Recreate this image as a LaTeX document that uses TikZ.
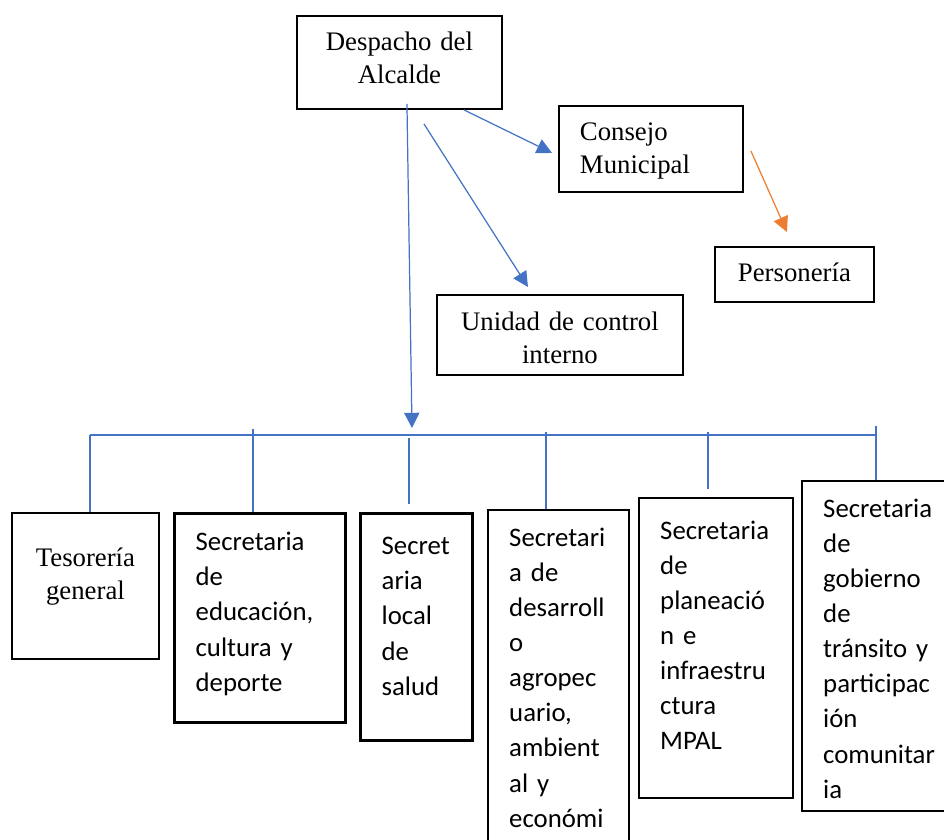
\documentclass[tikz,border=0pt]{standalone}
\usepackage{fontspec}
\setmainfont{Liberation Serif}
\newfontfamily\calibri{Carlito}
\definecolor{azulWord}{RGB}{68,114,196}
\definecolor{naranjaWord}{RGB}{237,125,49}
\newdimen\unpx
\unpx=0.4484pt
\usetikzlibrary{arrows.meta, calc}

\begin{document}
\begin{tikzpicture}[
  x=0.4484pt, y=-0.4484pt,
  caja/.style={rectangle, draw, line width=0.85pt, inner ysep=0pt, anchor=north west,
               font=\fontsize{12pt}{14.6pt}\selectfont},
  centrada/.style={caja, inner xsep=0pt, align=center},
  izquierda/.style={caja, inner xsep=21*\unpx, align=left},
  secre/.style={izquierda, line width=1.1pt,
                font=\calibri\fontsize{12pt}{15.75pt}\selectfont},
  gruesa/.style={secre, line width=1.5pt},
  flecha/.style={-{Triangle[length=6.8pt, width=6.8pt]}, line width=0.55pt},
  linea/.style={draw=azulWord, line width=0.55pt}
]
\clip (0,0) rectangle (944,840);

% Despacho y dependencias
\node[centrada, text width=205*\unpx, text height=35*\unpx, text depth=58*\unpx]
  (despacho) at (296,15) {Despacho del\\Alcalde};
\node[izquierda, text width=142*\unpx, text height=35*\unpx, text depth=51*\unpx]
  (consejo) at (558,105) {Consejo\\Municipal};
\node[centrada, text width=159*\unpx, text height=35*\unpx, text depth=20*\unpx]
  (personeria) at (714,246) {Personería};
\node[centrada, text width=246*\unpx, text height=36*\unpx, text depth=44*\unpx]
  (control) at (436,294) {Unidad de control\\interno};

% Secretarias (abajo)
\node[centrada, text width=147*\unpx, text height=54*\unpx, text depth=92*\unpx]
  (tesoreria) at (11,512) {Tesorería\\general};
\node[gruesa, text width=129*\unpx, text height=37*\unpx, text depth=172*\unpx]
  (educacion) at (173,512) {Secretaria\\de\\educación,\\cultura y\\deporte};
\node[gruesa, text width=70*\unpx, text height=41*\unpx, text depth=186*\unpx]
  (salud) at (359,512) {Secret\\aria\\local\\de\\salud};
\node[secre, text width=99*\unpx, text height=36*\unpx, text depth=320*\unpx]
  (desarrollo) at (487,509) {Secretari\\a de\\desarroll\\o\\agropec\\uario,\\ambient\\al y\\económi};
\node[secre, text width=112*\unpx, text height=41*\unpx, text depth=259*\unpx]
  (planeacion) at (638,497) {Secretaria\\de\\planeació\\n e\\infraestru\\ctura\\MPAL};
\node[secre, text width=160*\unpx, text height=36*\unpx, text depth=294*\unpx]
  (gobierno) at (801,480) {Secretaria\\de\\gobierno\\de\\tránsito y\\participac\\ión\\comunitar\\ia};

% Flechas desde el despacho
\coordinate (tronco) at (412,428);
\draw[flecha, azulWord] ($(despacho.south)+(7.5,-6)$) -- (tronco);
\draw[flecha, azulWord] ($(despacho.south)+(24.5,14)$) -- ($(control.north)+(-32,-7)$);
\draw[flecha, azulWord] ($(despacho.south)+(64.5,0)$) -- ($(consejo.west)+(-6,4)$);
\draw[flecha, naranjaWord] ($(consejo.east)+(7,2)$) -- ($(personeria.north)+(-7.5,-14)$);

% Barra de secretarias
\coordinate (r1) at (90,435);
\coordinate (r2) at (253,429);
\coordinate (r3) at (409,438);
\coordinate (r4) at (546,432);
\coordinate (r5) at (708,432);
\coordinate (r6) at (876,426);
\draw[linea] (r1) -- (r1 -| r6);
\draw[linea] (r1) -- (r1 |- tesoreria.north);
\draw[linea] (r2) -- (r2 |- educacion.north);
\draw[linea] (r3) -- ($(r3 |- salud.north)+(0,-8)$);
\draw[linea] (r4) -- (r4 |- desarrollo.north);
\draw[linea] (r5) -- ($(r5 |- planeacion.north)+(0,-8)$);
\draw[linea] (r6) -- (r6 |- gobierno.north);

\end{tikzpicture}
\end{document}
